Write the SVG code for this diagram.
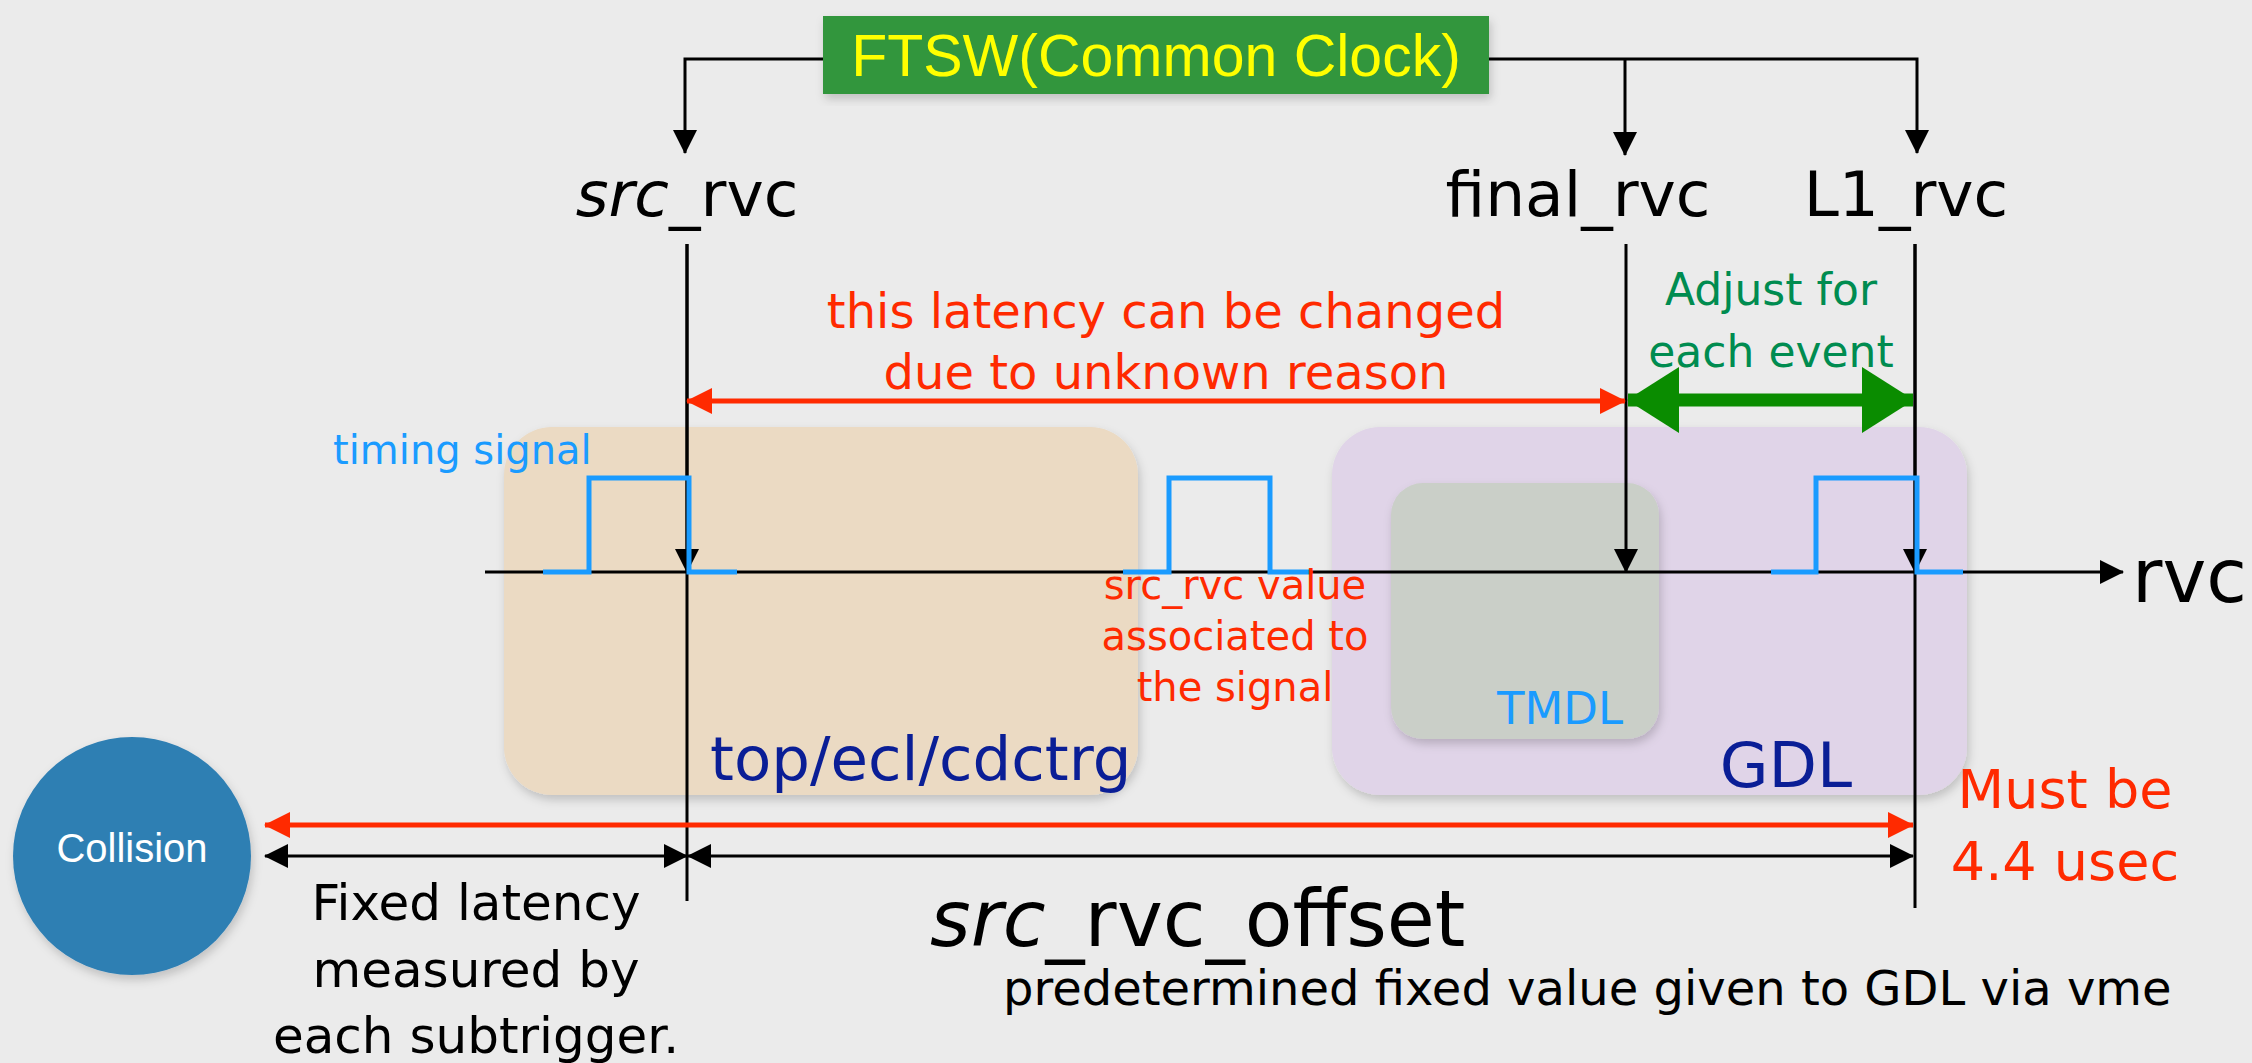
<svg xmlns="http://www.w3.org/2000/svg" width="2252" height="1063" viewBox="0 0 2252 1063">
<style>
  .t { font-family: "DejaVu Sans", "Liberation Sans", sans-serif; }
  .blk { fill: #000; }
  .red { fill: #FF2A00; }
  .ln { stroke: #000; stroke-width: 3; fill: none; }
  .redln { stroke: #FF2A00; stroke-width: 5; fill: none; }
  .pulse { stroke: #1A9BFF; stroke-width: 5; fill: none; }
</style>
<defs>
  <marker id="ab" markerUnits="userSpaceOnUse" markerWidth="24" markerHeight="24" refX="23" refY="12" orient="auto-start-reverse" viewBox="0 0 24 24">
    <path d="M0,0 L24,12 L0,24 z" fill="#000"/>
  </marker>
  <marker id="ar" markerUnits="userSpaceOnUse" markerWidth="26" markerHeight="26" refX="25" refY="13" orient="auto-start-reverse" viewBox="0 0 26 26">
    <path d="M0,0 L26,13 L0,26 z" fill="#FF2A00"/>
  </marker>
  <marker id="ag" markerUnits="userSpaceOnUse" markerWidth="52" markerHeight="66" refX="51" refY="33" orient="auto-start-reverse" viewBox="0 0 52 66">
    <path d="M0,0 L52,33 L0,66 z" fill="#0A8C00"/>
  </marker>
  <filter id="sh" x="-10%" y="-10%" width="125%" height="125%">
    <feDropShadow dx="2" dy="5" stdDeviation="5" flood-color="#000" flood-opacity="0.18"/>
  </filter>
</defs>
<rect width="2252" height="1063" fill="#EBEBEB"/>

<g id="box-subtrigger">
  <rect x="504" y="427" width="634" height="368" rx="48" fill="#EBDAC3" filter="url(#sh)"/>
  <text class="t" x="710" y="780" font-size="61" fill="#0A1E96">top/ecl/cdctrg</text>
</g>
<g id="box-gdl">
  <rect x="1332" y="427" width="635" height="368" rx="48" fill="#E0D4E8" filter="url(#sh)"/>
  <text class="t" x="1786" y="787" font-size="63" fill="#0A1E96" text-anchor="middle">GDL</text>
</g>
<g id="box-tmdl">
  <rect x="1391" y="483" width="268" height="256" rx="32" fill="#CACFC8" filter="url(#sh)"/>
  <text class="t" x="1560" y="724" font-size="45" fill="#1A9BFF" text-anchor="middle">TMDL</text>
</g>

<g id="ftsw">
  <rect x="823" y="16" width="666" height="78" fill="#30963C" filter="url(#sh)"/>
  <text x="1156" y="76" font-family="Liberation Sans, Arial, sans-serif" font-size="59" fill="#FFFF00" text-anchor="middle">FTSW(Common Clock)</text>
</g>

<g id="label-src_rvc">
  <text class="t" x="687" y="216" font-size="63" text-anchor="middle"><tspan font-style="italic">src</tspan>_rvc</text>
</g>
<g id="label-final_rvc">
  <text class="t" x="1578" y="216" font-size="63" text-anchor="middle">final_rvc</text>
</g>
<g id="label-L1_rvc">
  <text class="t" x="1906" y="216" font-size="63" text-anchor="middle">L1_rvc</text>
</g>
<g id="label-rvc">
  <text class="t" x="2132" y="602" font-size="74">rvc</text>
</g>

<g id="collision">
  <circle cx="132" cy="856" r="119" fill="#2F7FB3" filter="url(#sh)"/>
  <text x="132" y="862" font-family="Liberation Sans, Arial, sans-serif" font-size="40" fill="#FFFFFF" text-anchor="middle">Collision</text>
</g>

<g id="connectors">
  <!-- FTSW distribution -->
  <path class="ln" stroke-width="4" d="M823,59 H685 V153" marker-end="url(#ab)"/>
  <path class="ln" stroke-width="4" d="M1489,59 H1917 V153" marker-end="url(#ab)"/>
  <path class="ln" stroke-width="4" d="M1625,59 V155" marker-end="url(#ab)"/>
  <!-- rvc axis -->
  <path class="ln" stroke-width="4" d="M485,572 H2123" marker-end="url(#ab)"/>
  <!-- vertical timing lines -->
  <path class="ln" d="M687,244 V901"/>
  <path class="ln" d="M687,244 V572" marker-end="url(#ab)"/>
  <path class="ln" d="M1626,244 V572" marker-end="url(#ab)"/>
  <path class="ln" d="M1915,244 V908"/>
  <path class="ln" d="M1915,244 V572" marker-end="url(#ab)"/>
  <!-- timing pulses -->
  <path class="pulse" d="M543,572 H589 V478 H689 V572 H737"/>
  <path class="pulse" d="M1123,572 H1169 V478 H1270 V572 H1310"/>
  <path class="pulse" d="M1771,572 H1816 V478 H1917 V572 H1963"/>
  <!-- latency arrow -->
  <path class="redln" d="M687,401 H1625" marker-start="url(#ar)" marker-end="url(#ar)"/>
  <!-- adjust arrow -->
  <path d="M1628,400 H1913" stroke="#0A8C00" stroke-width="13" fill="none" marker-start="url(#ag)" marker-end="url(#ag)"/>
  <!-- 4.4 usec -->
  <path class="redln" d="M265,825 H1913" marker-start="url(#ar)" marker-end="url(#ar)"/>
  <!-- fixed latency -->
  <path class="ln" stroke-width="5" d="M265,856 H687" marker-start="url(#ab)" marker-end="url(#ab)"/>
  <path class="ln" stroke-width="5" d="M688,856 H1913" marker-start="url(#ab)" marker-end="url(#ab)"/>
</g>

<g id="annotations">
  <text class="t" x="333" y="464" font-size="40" fill="#1A9BFF">timing signal</text>
  <text class="t red" x="1166" y="328" font-size="48" text-anchor="middle">this latency can be changed</text>
  <text class="t red" x="1166" y="389" font-size="48" text-anchor="middle">due to unknown reason</text>
  <text class="t" x="1771" y="305" font-size="44" fill="#008C50" text-anchor="middle">Adjust for</text>
  <text class="t" x="1771" y="367" font-size="44" fill="#008C50" text-anchor="middle">each event</text>
  <text class="t red" x="1235" y="599" font-size="40" text-anchor="middle">src_rvc value</text>
  <text class="t red" x="1235" y="650" font-size="40" text-anchor="middle">associated to</text>
  <text class="t red" x="1235" y="701" font-size="40" text-anchor="middle">the signal</text>
  <text class="t red" x="2065" y="808" font-size="54" text-anchor="middle">Must be</text>
  <text class="t red" x="2065" y="880" font-size="54" text-anchor="middle">4.4 usec</text>
  <text class="t" x="476" y="920" font-size="50" text-anchor="middle">Fixed latency</text>
  <text class="t" x="476" y="987" font-size="50" text-anchor="middle">measured by</text>
  <text class="t" x="476" y="1053" font-size="50" text-anchor="middle">each subtrigger.</text>
  <text class="t" x="930" y="946" font-size="78"><tspan font-style="italic">src</tspan>_rvc_offset</text>
  <text class="t" x="1003" y="1005" font-size="48">predetermined fixed value given to GDL via vme</text>
</g>
</svg>
